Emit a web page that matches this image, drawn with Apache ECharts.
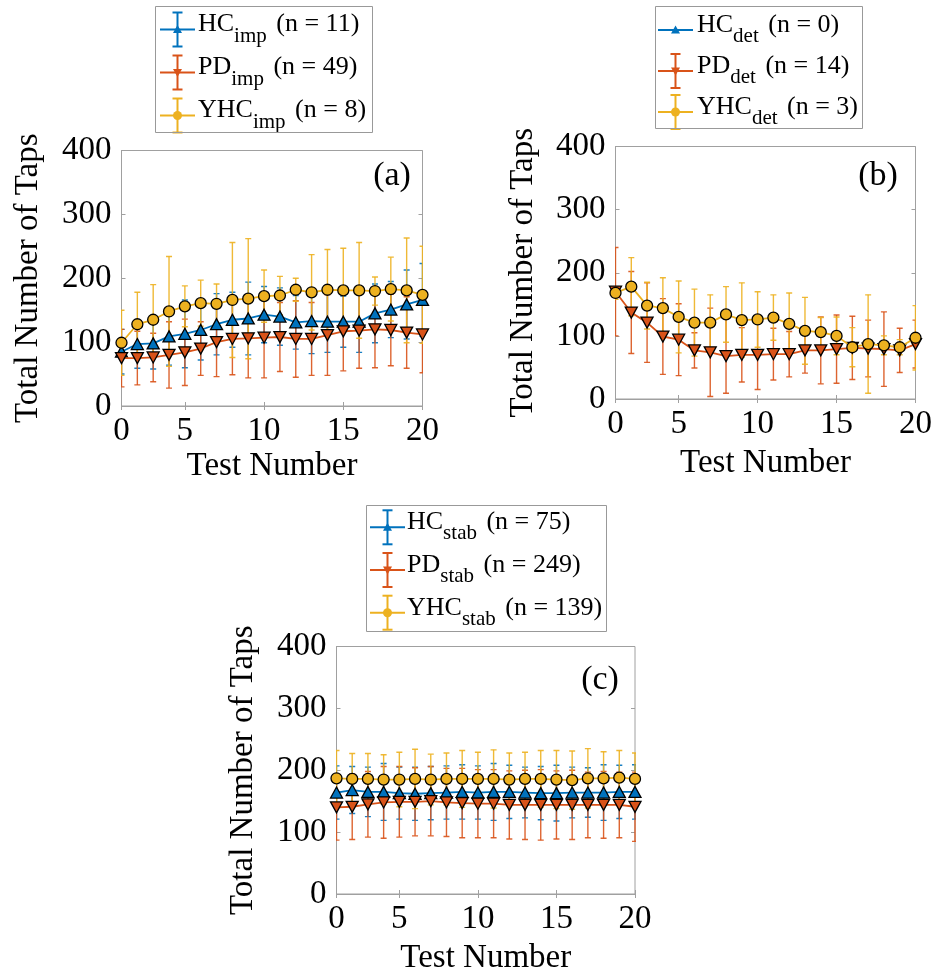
<!DOCTYPE html>
<html><head><meta charset="utf-8">
<script src="https://cdn.jsdelivr.net/npm/echarts@6/dist/echarts.min.js"></script>
<style>html,body{margin:0;padding:0;background:#fff}#c{width:935px;height:976px}</style>
</head><body><div id="c"></div>
<script>
// ---------- data ----------
const testNumbers = [1,2,3,4,5,6,7,8,9,10,11,12,13,14,15,16,17,18,19,20];
const xTickValues = [1,5,10,15,20];
const xTickLabels = ['0','5','10','15','20'];
const yTickMin = 0, yTickMax = 400, yTickStep = 100;

const groupNames = ['HC','PD','YHC'];
const nImp  = [11, 49, 8];
const nDet  = [0, 14, 3];
const nStab = [75, 249, 139];

// (a) impaired
const hcImpMean  = [85, 97, 98, 109, 113, 119, 128, 135, 137, 143, 140, 131, 133, 132, 132, 132, 145, 151, 159, 166];
const hcImpErr   = [35, 38, 40, 45, 53, 47, 48, 43, 57, 44, 45, 42, 51, 48, 40, 48, 46, 44, 54, 57];
const pdImpMean  = [75, 75, 76, 80, 84, 90, 100, 105, 106, 107, 108, 105, 105, 111, 117, 118, 120, 119, 115, 112];
const pdImpErr   = [45, 42, 38, 52, 52, 42, 54, 56, 62, 63, 54, 60, 57, 63, 62, 59, 60, 56, 56, 60];
const yhcImpMean = [99, 128, 135, 148, 156, 161, 160, 166, 168, 172, 173, 182, 178, 182, 181, 181, 180, 183, 181, 174];
const yhcImpErr  = [51, 50, 55, 86, 32, 36, 31, 90, 94, 41, 30, 18, 59, 63, 66, 75, 22, 50, 82, 76];

// (b) deteriorated
const hcDetMean  = [];
const hcDetErr   = [];
const pdDetMean  = [170, 137, 121, 99, 94, 77, 74, 68, 70, 70, 71, 71, 77, 77, 79, 81, 80, 79, 77, 87];
const pdDetErr   = [70, 65, 63, 60, 57, 28, 70, 59, 43, 55, 41, 36, 36, 53, 54, 50, 45, 59, 35, 38];
const yhcDetMean = [168, 178, 148, 144, 130, 121, 121, 134, 125, 126, 129, 119, 108, 106, 100, 82, 87, 85, 82, 97];
const yhcDetErr  = [10, 46, 37, 48, 57, 53, 44, 44, 59, 44, 36, 49, 53, 23, 30, 31, 78, 15, 12, 51];

// (c) stable
const hcStabMean  = [164, 168, 165, 165, 163, 162, 163, 164, 165, 164, 165, 165, 164, 163, 163, 164, 164, 164, 165, 165];
const hcStabErr   = [43, 38, 40, 46, 42, 43, 43, 43, 44, 43, 46, 43, 41, 43, 45, 41, 40, 45, 43, 44];
const pdStabMean  = [140, 141, 145, 148, 149, 149, 150, 148, 147, 146, 146, 144, 144, 144, 144, 144, 144, 144, 144, 141];
const pdStabErr   = [53, 53, 53, 58, 57, 55, 56, 55, 56, 55, 55, 55, 56, 57, 55, 56, 53, 54, 53, 56];
const yhcStabMean = [187, 186, 186, 185, 185, 186, 185, 186, 186, 186, 186, 185, 186, 186, 185, 184, 187, 187, 188, 186];
const yhcStabErr  = [45, 41, 41, 40, 44, 48, 41, 42, 46, 43, 47, 43, 43, 46, 47, 47, 48, 43, 44, 42];

// ---------- styles / layout ----------
const FONT = 'Liberation Serif';
const COLORS = ['#0072BD', '#D95319', '#EDB120'];
const AXIS_GRAY = '#a0a0a0';
const AXIS_FS = 33;

const panels = [
  { sub: 'imp', n: nImp, tag: '(a)', tagPos: [392, 176],
    grid: { left: 121.5, top: 150.5, width: 301, height: 255.5 },
    means: [hcImpMean, pdImpMean, yhcImpMean], errs: [hcImpErr, pdImpErr, yhcImpErr],
    legend: { iconX: 160, textX: 198, rows: [29.5, 72.5, 115.5] }, box: [155.5, 6.5, 217, 126],
    yNameGap: 77, xNameGap: 44 },
  { sub: 'det', n: nDet, tag: '(b)', tagPos: [878, 176],
    grid: { left: 615.5, top: 146.5, width: 300.5, height: 252.5 },
    means: [hcDetMean, pdDetMean, yhcDetMean], errs: [hcDetErr, pdDetErr, yhcDetErr],
    legend: { iconX: 658, textX: 697, rows: [30, 71, 112] }, box: [655.5, 6.5, 207, 122],
    yNameGap: 75.5, xNameGap: 48 },
  { sub: 'stab', n: nStab, tag: '(c)', tagPos: [600, 680],
    grid: { left: 336.5, top: 646.5, width: 298.5, height: 250 },
    means: [hcStabMean, pdStabMean, yhcStabMean], errs: [hcStabErr, pdStabErr, yhcStabErr],
    legend: { iconX: 370, textX: 407, rows: [527.3, 570, 612.7] }, box: [366.5, 505.5, 240, 126],
    yNameGap: 76.5, xNameGap: 48 }
];

const SYMBOLS = ['triangle', 'path://M0,0 L10,0 L5,9 Z', 'circle'];
const SYMBOL_SIZES = [[12, 11], [12, 11], 11];

function makeErr(color) {
  return function (params, api) {
    const x = api.value(0), lo = api.value(1), hi = api.value(2);
    const p1 = api.coord([x, lo]), p2 = api.coord([x, hi]);
    const w = 3;
    const style = { stroke: color, lineWidth: 1.4, opacity: 0.9 };
    return { type: 'group', children: [
      { type: 'line', shape: { x1: p1[0], y1: p1[1], x2: p2[0], y2: p2[1] }, style },
      { type: 'line', shape: { x1: p1[0] - w, y1: p1[1], x2: p1[0] + w, y2: p1[1] }, style },
      { type: 'line', shape: { x1: p2[0] - w, y1: p2[1], x2: p2[0] + w, y2: p2[1] }, style }
    ]};
  };
}

function legendEntry(x0, yc, color, s, hasBar, label, textX) {
  const xm = x0 + 17.5;
  const ls = { stroke: color, lineWidth: 2 };
  const ch = [{ type: 'line', shape: { x1: x0, y1: yc, x2: x0 + 35, y2: yc }, style: ls }];
  if (hasBar) {
    ch.push({ type: 'line', shape: { x1: xm, y1: yc - 17, x2: xm, y2: yc + 17 }, style: ls });
    ch.push({ type: 'line', shape: { x1: xm - 5, y1: yc - 17, x2: xm + 5, y2: yc - 17 }, style: ls });
    ch.push({ type: 'line', shape: { x1: xm - 5, y1: yc + 17, x2: xm + 5, y2: yc + 17 }, style: ls });
  }
  if (s === 0) ch.push({ type: 'polygon', shape: { points: [[xm - 4.5, yc + 3.5], [xm + 4.5, yc + 3.5], [xm, yc - 4.5]] }, style: { fill: color } });
  else if (s === 1) ch.push({ type: 'polygon', shape: { points: [[xm - 4.5, yc - 3.5], [xm + 4.5, yc - 3.5], [xm, yc + 4.5]] }, style: { fill: color } });
  else ch.push({ type: 'circle', shape: { cx: xm, cy: yc, r: 4.5 }, style: { fill: color } });
  ch.push({ type: 'text', x: textX, y: yc + 3, style: {
    text: label, fontFamily: FONT, fontSize: 26, fill: '#000', align: 'left', verticalAlign: 'middle',
    rich: {
      m: { fontFamily: FONT, fontSize: 26, fill: '#000', lineHeight: 28, padding: [0, 0, 16, 0] },
      s: { fontFamily: FONT, fontSize: 21, fill: '#000', lineHeight: 20, verticalAlign: 'bottom', padding: [0, 3, 0, 0] }
    } } });
  return { type: 'group', silent: true, children: ch };
}

const option = {
  animation: false,
  backgroundColor: '#fff',
  grid: [], xAxis: [], yAxis: [], series: [], graphic: []
};

const axisText = { fontFamily: FONT, fontSize: AXIS_FS, color: '#000' };

panels.forEach((p, k) => {
  option.grid.push(Object.assign({ show: true, borderColor: AXIS_GRAY, borderWidth: 1, backgroundColor: 'transparent', containLabel: false }, p.grid));
  option.xAxis.push({
    type: 'value', gridIndex: k, min: testNumbers[0], max: testNumbers[testNumbers.length - 1], position: 'bottom',
    name: 'Test Number', nameLocation: 'middle', nameGap: p.xNameGap, nameTextStyle: axisText,
    axisLine: { show: true, lineStyle: { color: AXIS_GRAY, width: 1 } },
    axisTick: { show: true, inside: true, length: 4, lineStyle: { color: AXIS_GRAY }, customValues: xTickValues },
    axisLabel: Object.assign({ margin: 9, customValues: xTickValues,
      formatter: v => xTickLabels[xTickValues.indexOf(v)] }, axisText),
    splitLine: { show: false }
  });
  option.xAxis.push({
    type: 'value', gridIndex: k, min: testNumbers[0], max: testNumbers[testNumbers.length - 1], position: 'top',
    axisLine: { show: false },
    axisTick: { show: true, inside: true, length: 4, lineStyle: { color: AXIS_GRAY }, customValues: xTickValues },
    axisLabel: { show: false }, splitLine: { show: false }
  });
  option.yAxis.push({
    type: 'value', gridIndex: k, min: yTickMin, max: yTickMax, interval: yTickStep, position: 'left',
    name: 'Total Number of Taps', nameLocation: 'middle', nameGap: p.yNameGap, nameTextStyle: axisText,
    axisLine: { show: true, lineStyle: { color: AXIS_GRAY, width: 1 } },
    axisTick: { show: true, inside: true, length: 4, lineStyle: { color: AXIS_GRAY } },
    axisLabel: Object.assign({ margin: 10 }, axisText),
    splitLine: { show: false }
  });
  option.yAxis.push({
    type: 'value', gridIndex: k, min: yTickMin, max: yTickMax, interval: yTickStep, position: 'right',
    axisLine: { show: false },
    axisTick: { show: true, inside: true, length: 4, lineStyle: { color: AXIS_GRAY } },
    axisLabel: { show: false }, splitLine: { show: false }
  });

  groupNames.forEach((g, s) => {
    const name = g + '_' + p.sub;
    const mean = p.means[s], err = p.errs[s];
    const lineData = mean.map((v, i) => [testNumbers[i], v]);
    const errData = mean.map((v, i) => [testNumbers[i], v - err[i], v + err[i]]);
    option.series.push({
      type: 'custom', name: name + ' error', xAxisIndex: 2 * k, yAxisIndex: 2 * k,
      renderItem: makeErr(COLORS[s]), data: errData, encode: { x: 0, y: [1, 2] },
      z: 2 + s * 0.1, silent: true, clip: true
    });
    option.series.push({
      type: 'line', name: name, xAxisIndex: 2 * k, yAxisIndex: 2 * k, data: lineData,
      symbol: SYMBOLS[s], symbolSize: SYMBOL_SIZES[s], showAllSymbol: true,
      itemStyle: { color: COLORS[s], borderColor: '#000', borderWidth: 1.3 },
      lineStyle: { color: COLORS[s], width: 1.8 },
      z: 3 + s * 0.1, silent: true
    });
    const label = '{m|' + g + '}{s|' + p.sub + '}{m| (n = ' + p.n[s] + ')}';
    option.graphic.push(legendEntry(p.legend.iconX, p.legend.rows[s], COLORS[s], s, p.n[s] > 0, label, p.legend.textX));
  });

  option.graphic.push({
    type: 'rect', shape: { x: p.box[0], y: p.box[1], width: p.box[2], height: p.box[3] },
    style: { fill: 'none', stroke: '#999', lineWidth: 1 }, z: 0, silent: true
  });
  option.graphic.push({
    type: 'text', x: p.tagPos[0], y: p.tagPos[1],
    style: { text: p.tag, fontFamily: FONT, fontSize: 34, fill: '#000', align: 'center', verticalAlign: 'middle' },
    z: 10, silent: true
  });
});

const chart = echarts.init(document.getElementById('c'), null, { renderer: 'canvas' });
chart.setOption(option);
</script>
</body></html>
